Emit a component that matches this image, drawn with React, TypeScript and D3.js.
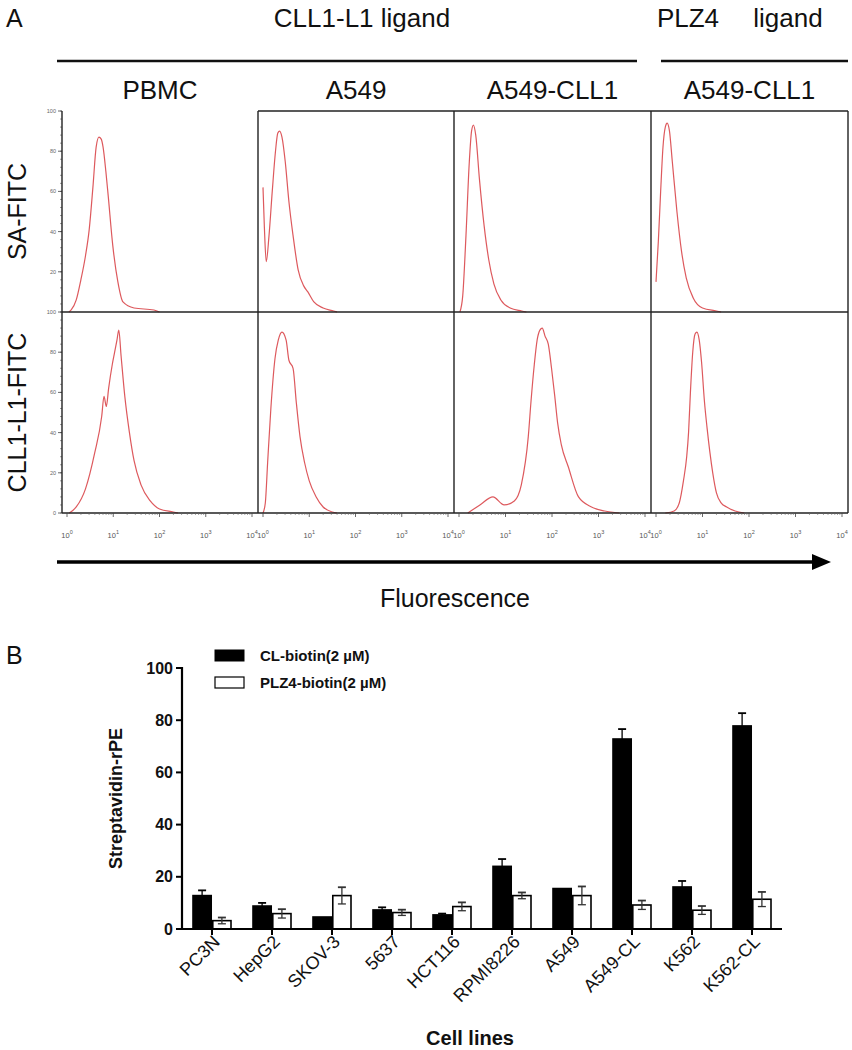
import React from "react";
import * as d3 from "d3";

// ---------- Panel A data ----------
const groupTitles = ["CLL1-L1 ligand", "PLZ4", "ligand"];
const columnTitles = ["PBMC", "A549", "A549-CLL1", "A549-CLL1"];
const rowTitles = ["SA-FITC", "CLL1-L1-FITC"];
const decadeTicks = [0, 1, 2, 3, 4];
const countTicksTop = [20, 40, 60, 80, 100];
const countTicksBottom = [0, 20, 40, 60, 80, 100];

// histograms: [log10 fluorescence, % of max]
const pbmcSA: [number, number][] = [[0.04, 0], [0.09, 1], [0.2, 6], [0.3, 16], [0.4, 28], [0.48, 41], [0.56, 62], [0.63, 82], [0.69, 87], [0.74, 86], [0.78, 82], [0.84, 70], [0.89, 58], [0.99, 33], [1.1, 15], [1.21, 5], [1.45, 2], [1.88, 1], [2.0, 0]];
const a549SA: [number, number][] = [[0.0, 62], [0.03, 42], [0.07, 25], [0.13, 38], [0.2, 60], [0.27, 80], [0.32, 89], [0.36, 90], [0.41, 87], [0.48, 75], [0.56, 55], [0.65, 38], [0.76, 21], [0.88, 13], [0.97, 10], [1.1, 5], [1.3, 2], [1.53, 0.5], [1.6, 0]];
const a549cllSA: [number, number][] = [[0.02, 0], [0.08, 8], [0.15, 38], [0.22, 74], [0.27, 90], [0.31, 93], [0.36, 88], [0.44, 66], [0.54, 43], [0.64, 26], [0.75, 14], [0.9, 6], [1.1, 2], [1.35, 0.5], [1.45, 0]];
const plzSA: [number, number][] = [[0.0, 15], [0.05, 35], [0.1, 60], [0.15, 82], [0.2, 92], [0.24, 94], [0.29, 90], [0.35, 75], [0.45, 50], [0.55, 30], [0.65, 17], [0.8, 7], [1.0, 2], [1.3, 0.5], [1.4, 0]];
const pbmcCL: [number, number][] = [[0.05, 0], [0.2, 3], [0.4, 12], [0.6, 30], [0.75, 48], [0.8, 58], [0.85, 53], [0.9, 62], [0.98, 74], [1.03, 80], [1.08, 86], [1.12, 91], [1.17, 78], [1.25, 58], [1.35, 40], [1.45, 26], [1.6, 14], [1.8, 6], [2.0, 2], [2.3, 0.5], [2.4, 0]];
const a549CL: [number, number][] = [[0.0, 0], [0.05, 5], [0.1, 25], [0.17, 52], [0.26, 77], [0.33, 86], [0.41, 90], [0.5, 86], [0.56, 76], [0.65, 72], [0.72, 55], [0.8, 38], [0.9, 25], [1.0, 16], [1.15, 8], [1.3, 3], [1.5, 0.5], [1.6, 0]];
const a549cllCL: [number, number][] = [[0.19, 0], [0.45, 4], [0.73, 8], [0.97, 4], [1.19, 6], [1.34, 14], [1.49, 38], [1.55, 56], [1.62, 74], [1.68, 86], [1.74, 91], [1.79, 92], [1.85, 88], [1.92, 84], [1.99, 72], [2.06, 58], [2.12, 45], [2.2, 34], [2.35, 23], [2.57, 8], [2.85, 3], [3.13, 1], [3.45, 0]];
const plzCL: [number, number][] = [[0.2, 0], [0.39, 1], [0.5, 5], [0.59, 16], [0.66, 28], [0.7, 40], [0.74, 60], [0.79, 80], [0.84, 89], [0.88, 90], [0.93, 86], [0.98, 75], [1.04, 56], [1.1, 42], [1.16, 30], [1.22, 20], [1.3, 10], [1.4, 5], [1.52, 3], [1.7, 1], [1.9, 0]];

const histRows = [
  [pbmcSA, a549SA, a549cllSA, plzSA],
  [pbmcCL, a549CL, a549cllCL, plzCL],
];

// ---------- Panel B data ----------
const cellLines = ["PC3N", "HepG2", "SKOV-3", "5637", "HCT116", "RPMI8226", "A549", "A549-CL", "K562", "K562-CL"];
const seriesNames = ["CL-biotin(2 \u00b5M)", "PLZ4-biotin(2 \u00b5M)"];
const clBiotin = [12.8, 8.8, 4.6, 7.3, 5.4, 24.0, 15.5, 72.8, 16.1, 77.8];
const clBiotinErr = [2.0, 1.2, 0, 1.0, 0.5, 2.8, 0, 3.8, 2.3, 4.9];
const plz4Biotin = [3.2, 5.9, 12.8, 6.3, 8.6, 12.8, 12.8, 9.2, 7.2, 11.4];
const plz4BiotinErr = [1.2, 1.7, 3.2, 1.1, 1.6, 1.2, 3.5, 1.7, 1.6, 2.8];
const barTicks = [0, 20, 40, 60, 80, 100];

const FONT = "'Liberation Sans', Arial, Helvetica, sans-serif";
const RED = "#d9474b";

export default function App() {
  const W = 852, H = 1050;
  const colX = [62, 258, 454, 651, 848];
  const rowY = [111, 312, 513];

  // ----- panel A elements -----
  const panels: JSX.Element[] = [];
  histRows.forEach((row, r) => {
    const y = d3.scaleLinear().domain([0, 100]).range([rowY[r + 1], rowY[r]]);
    row.forEach((data, c) => {
      const x = d3.scaleLinear().domain([0, 4]).range([colX[c] + 5, colX[c + 1] - 6]);
      const line = d3.line<[number, number]>().x(d => x(d[0])).y(d => y(d[1])).curve(d3.curveMonotoneX);
      panels.push(<path key={`h${r}${c}`} d={line(data) || ""} fill="none" stroke={RED} strokeWidth={1.2} strokeOpacity={0.9} />);
    });
    const ticks = r === 0 ? countTicksTop : countTicksBottom;
    d3.range(0, 101, 4).forEach(v => {
      panels.push(<line key={`ym${r}-${v}`} x1={colX[0] - 2} x2={colX[0]} y1={y(v)} y2={y(v)} stroke="#555" strokeWidth={0.6} />);
    });
    ticks.forEach(v => {
      panels.push(<line key={`yt${r}-${v}`} x1={colX[0] - 4} x2={colX[0]} y1={y(v)} y2={y(v)} stroke="#444" strokeWidth={0.8} />);
      panels.push(<text key={`yl${r}-${v}`} x={colX[0] - 6} y={y(v) + 2} fontSize={5.5} fill="#666" textAnchor="end" fontFamily={FONT}>{v}</text>);
    });
    const cy = (rowY[r] + rowY[r + 1]) / 2;
    panels.push(<text key={`rt${r}`} transform={`translate(26,${cy}) rotate(-90)`} textAnchor="middle" fontSize={25} fontFamily={FONT} fill="#111">{rowTitles[r]}</text>);
  });

  const xAxisEls: JSX.Element[] = [];
  for (let c = 0; c < 4; c++) {
    const x = d3.scaleLinear().domain([0, 4]).range([colX[c] + 5, colX[c + 1] - 6]);
    decadeTicks.forEach(d => {
      xAxisEls.push(<line key={`xt${c}-${d}`} x1={x(d)} x2={x(d)} y1={rowY[2]} y2={rowY[2] + 4} stroke="#444" strokeWidth={0.8} />);
      xAxisEls.push(
        <text key={`xl${c}-${d}`} x={x(d)} y={rowY[2] + 25} fontSize={7.5} fill="#555" textAnchor="middle" fontFamily={FONT}>
          10<tspan dy={-4} fontSize={5.5}>{d}</tspan>
        </text>
      );
      if (d < 4) {
        for (let k = 2; k < 10; k++) {
          const xv = x(d + Math.log10(k));
          xAxisEls.push(<line key={`xm${c}-${d}-${k}`} x1={xv} x2={xv} y1={rowY[2]} y2={rowY[2] + 2} stroke="#666" strokeWidth={0.6} />);
        }
      }
    });
  }

  // ----- panel B -----
  const bx0 = 182, bx1 = 782, by0 = 929, by1 = 668;
  const yB = d3.scaleLinear().domain([0, 100]).range([by0, by1]);
  const xB = d3.scaleBand<string>().domain(cellLines).range([bx0, bx1]);
  const bw = xB.bandwidth();
  const xSub = d3.scaleBand<number>().domain([0, 1]).range([bw / 2 - 19, bw / 2 + 19]).paddingInner(0.08);
  const seriesVals = [clBiotin, plz4Biotin];
  const seriesErr = [clBiotinErr, plz4BiotinErr];

  const bars: JSX.Element[] = [];
  cellLines.forEach((cl, i) => {
    [0, 1].forEach(s => {
      const v = seriesVals[s][i];
      const e = seriesErr[s][i];
      const x0 = (xB(cl) as number) + (xSub(s) as number);
      const w = xSub.bandwidth();
      bars.push(<rect key={`b${i}-${s}`} x={x0} y={yB(v)} width={w} height={yB(0) - yB(v)} fill={s === 0 ? "#000" : "#fff"} stroke="#000" strokeWidth={1.6} />);
      if (e > 0) {
        const cx = x0 + w / 2;
        bars.push(<g key={`e${i}-${s}`} stroke={s === 0 ? "#000" : "#333"} strokeWidth={1.3}>
          <line x1={cx} x2={cx} y1={yB(v - e)} y2={yB(v + e)} />
          <line x1={cx - 4} x2={cx + 4} y1={yB(v + e)} y2={yB(v + e)} strokeWidth={1.8} />
          <line x1={cx - 4} x2={cx + 4} y1={yB(v - e)} y2={yB(v - e)} />
        </g>);
      }
    });
  });

  return (
    <svg width={W} height={H} viewBox={`0 0 ${W} ${H}`} style={{ position: "absolute", left: 0, top: 0, background: "#fff" }} fontFamily={FONT}>
      <rect x={0} y={0} width={W} height={H} fill="#fff" />
      {/* ===== Panel A ===== */}
      <text x={6} y={27} fontSize={25} fill="#111">A</text>
      <text x={362} y={27} fontSize={26} textAnchor="middle" fill="#111">{groupTitles[0]}</text>
      <text x={688} y={27} fontSize={26} textAnchor="middle" fill="#111">{groupTitles[1]}</text>
      <text x={788} y={27} fontSize={26} textAnchor="middle" fill="#111">{groupTitles[2]}</text>
      <line x1={57} x2={637} y1={61} y2={61} stroke="#111" strokeWidth={2.5} />
      <line x1={661} x2={848} y1={61} y2={61} stroke="#111" strokeWidth={2.5} />
      {columnTitles.map((t, i) => (
        <text key={`ct${i}`} x={(colX[i] + colX[i + 1]) / 2} y={99} fontSize={26} textAnchor="middle" fill="#111">{t}</text>
      ))}

      {panels}

      <g stroke="#222" strokeWidth={1.4} fill="none">
        <line x1={colX[0]} x2={colX[0]} y1={rowY[0]} y2={rowY[2]} />
        <line x1={colX[1]} x2={colX[4]} y1={rowY[0]} y2={rowY[0]} />
        {[1, 2, 3, 4].map(i => <line key={`v${i}`} x1={colX[i]} x2={colX[i]} y1={rowY[0]} y2={rowY[2]} />)}
        <line x1={colX[0]} x2={colX[4]} y1={rowY[1]} y2={rowY[1]} />
        <line x1={colX[0]} x2={colX[4]} y1={rowY[2]} y2={rowY[2]} />
      </g>
      {xAxisEls}

      <line x1={57} x2={814} y1={562} y2={562} stroke="#000" strokeWidth={3.5} />
      <polygon points="812,554 831,562 812,570" fill="#000" />
      <text x={455} y={607} fontSize={25} textAnchor="middle" fill="#111">Fluorescence</text>

      {/* ===== Panel B ===== */}
      <text x={6} y={664} fontSize={25} fill="#111">B</text>
      <rect x={215} y={650} width={29} height={11} fill="#000" stroke="#000" strokeWidth={1} />
      <rect x={215} y={677} width={29} height={11} fill="#fff" stroke="#000" strokeWidth={1.2} />
      <text x={260} y={661} fontSize={15} fontWeight="bold" fill="#111">{seriesNames[0]}</text>
      <text x={260} y={688} fontSize={15} fontWeight="bold" fill="#111">{seriesNames[1]}</text>

      {bars}

      <line x1={bx0} x2={bx0} y1={by1 - 1} y2={by0} stroke="#000" strokeWidth={2.2} />
      <line x1={bx0} x2={bx1} y1={by0} y2={by0} stroke="#000" strokeWidth={2.2} />
      {barTicks.map(t => (
        <g key={`bt${t}`}>
          <line x1={bx0 - 6} x2={bx0} y1={yB(t)} y2={yB(t)} stroke="#000" strokeWidth={2} />
          <text x={bx0 - 9} y={yB(t) + 5.5} fontSize={16} fontWeight="bold" textAnchor="end" fill="#111">{t}</text>
        </g>
      ))}
      {cellLines.map(cl => {
        const cx = (xB(cl) as number) + bw / 2;
        return (
          <g key={`xt${cl}`}>
            <line x1={cx} x2={cx} y1={by0} y2={by0 + 6} stroke="#000" strokeWidth={2} />
            <text transform={`translate(${cx + 9},${by0 + 14}) rotate(-45)`} fontSize={18} textAnchor="end" fill="#111">{cl}</text>
          </g>
        );
      })}
      <text transform={`translate(122,${(by0 + by1) / 2}) rotate(-90)`} fontSize={18} fontWeight="bold" textAnchor="middle" fill="#111">Streptavidin-rPE</text>
      <text x={470} y={1045} fontSize={20} fontWeight="bold" textAnchor="middle" fill="#111">Cell lines</text>
    </svg>
  );
}
